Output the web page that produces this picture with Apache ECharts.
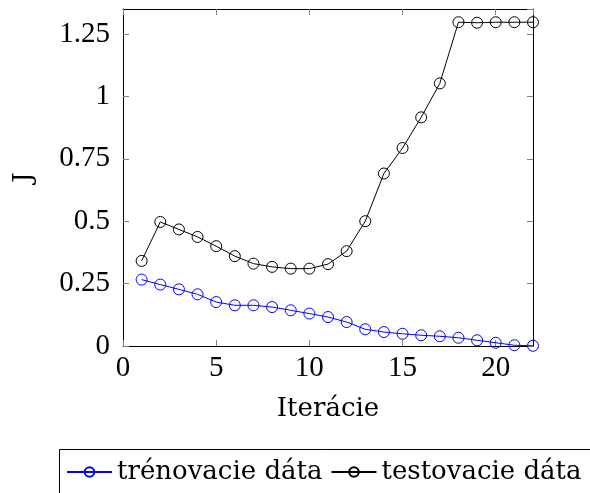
<!DOCTYPE html>
<html>
<head>
<meta charset="utf-8">
<script src="https://cdn.jsdelivr.net/npm/echarts@6/dist/echarts.min.js"></script>
<style>
html,body{margin:0;padding:0;background:#fff;}
#c{width:590px;height:493px;}
</style>
</head>
<body>
<div id="c"></div>
<script>
const iterations = [1,2,3,4,5,6,7,8,9,10,11,12,13,14,15,16,17,18,19,20,21,22];
const trainData = [0.266,0.246,0.227,0.207,0.176,0.163,0.163,0.156,0.143,0.130,0.116,0.096,0.067,0.056,0.049,0.043,0.039,0.033,0.023,0.013,0.003,0.001];
const testData = [0.341,0.497,0.467,0.437,0.400,0.360,0.330,0.317,0.310,0.310,0.328,0.380,0.500,0.691,0.793,0.916,1.052,1.297,1.295,1.297,1.297,1.297];
const seriesNames = ['trénovacie dáta','testovacie dáta'];
const xTitle = 'Iterácie';
const yTitle = 'J';

const NUMFONT = 'Liberation Serif';
const FONT = 'DejaVu Serif';
const chart = echarts.init(document.getElementById('c'));
const tickStyle = {show:true, inside:true, length:6, lineStyle:{color:'#808080', width:1}};
const axisLine = {show:true, onZero:false, lineStyle:{color:'#000', width:1}};
function pairs(ys){ return iterations.map((x,i)=>[x, ys[i]]); }
chart.setOption({
  animation:false,
  backgroundColor:'#fff',
  grid:{left:123, right:57, top:9, bottom:147, containLabel:false},
  xAxis:[
    {type:'value', min:0, max:22, interval:5, position:'bottom',
     axisLine:axisLine, axisTick:tickStyle, splitLine:{show:false},
     axisLabel:{color:'#000', fontFamily:NUMFONT, fontSize:29, margin:8, showMaxLabel:false},
     name:xTitle, nameLocation:'middle', nameGap:50,
     nameTextStyle:{color:'#000', fontFamily:FONT, fontSize:26}},
    {type:'value', min:0, max:22, interval:5, position:'top',
     axisLine:axisLine, axisTick:tickStyle, splitLine:{show:false}, axisLabel:{show:false}}
  ],
  yAxis:[
    {type:'value', min:0, max:1.35, interval:0.25, position:'left',
     axisLine:axisLine, axisTick:tickStyle, splitLine:{show:false},
     axisLabel:{color:'#000', fontFamily:NUMFONT, fontSize:29, margin:13, showMaxLabel:false},
     name:yTitle, nameLocation:'middle', nameGap:86,
     nameTextStyle:{color:'#000', fontFamily:FONT, fontSize:26}},
    {type:'value', min:0, max:1.35, interval:0.25, position:'right',
     axisLine:axisLine, axisTick:tickStyle, splitLine:{show:false}, axisLabel:{show:false}}
  ],
  legend:{
    left:61, top:454, orient:'horizontal', width:900,
    itemWidth:45, itemHeight:12, itemGap:8,
    textStyle:{color:'#000', fontFamily:FONT, fontSize:26},
    data:seriesNames
  },
  graphic:[{type:'rect', left:57, top:447, shape:{width:620, height:80},
    style:{fill:'none', stroke:'#000', lineWidth:1}, z:0, silent:true}],
  series:[
    {name:seriesNames[0], type:'line', data:pairs(trainData), symbol:'circle', symbolSize:11,
     lineStyle:{color:'#0000ff', width:1}, itemStyle:{color:'rgba(0,0,0,0)', borderColor:'#0000ff', borderWidth:1},
     emphasis:{disabled:true}},
    {name:seriesNames[1], type:'line', data:pairs(testData), symbol:'circle', symbolSize:11,
     lineStyle:{color:'#000', width:1}, itemStyle:{color:'rgba(0,0,0,0)', borderColor:'#000', borderWidth:1},
     emphasis:{disabled:true}}
  ]
});
</script>
</body>
</html>
